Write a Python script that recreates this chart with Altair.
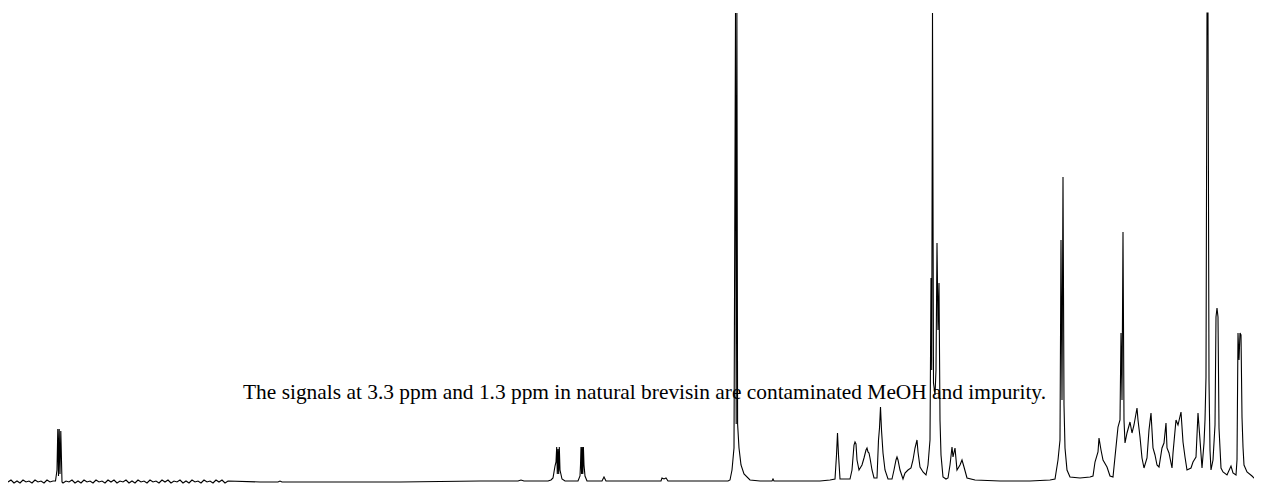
import altair as alt
import pandas as pd

# chemical-shift positions (arbitrary linear units, left to right) and intensities
shift_a = [8, 11, 14, 17, 20, 23, 26, 29, 32, 35, 38, 41, 44, 47, 50, 53,
           55.5, 57, 57.8, 58.5, 59.2, 60, 60.8, 62,
           63, 66, 69, 72, 75, 78, 81, 84, 87, 90,
           93, 96, 99, 102, 105, 108, 111, 114, 117, 120,
           123, 126, 129, 132, 135, 138, 141, 144, 147, 150,
           153, 156, 159, 162, 165, 168, 171, 174, 177, 180,
           183, 186, 189, 192, 195, 198, 201, 204, 207, 210,
           213, 216, 219, 222, 225, 228]
inten_a = [2, 4, 1, 3, 1, 4, 2, 3, 1, 4, 2, 3, 1, 4, 2, 3,
           3, 14, 55, 8, 55, 10, 53, 2,
           1, 3, 2, 4, 1, 3, 1, 4, 2, 3,
           1, 4, 2, 3, 1, 4, 2, 4, 1, 3,
           2, 4, 1, 3, 1, 4, 2, 3, 1, 4,
           2, 3, 1, 4, 2, 4, 1, 3, 2, 4,
           1, 3, 1, 4, 2, 3, 1, 4, 2, 3,
           1, 4, 2, 4, 1, 3]

shift_b = [260, 278, 280, 282, 330, 400, 480, 518, 521, 524,
           548, 551, 553, 555, 556, 556.7, 557.3, 558, 558.7, 559.3, 560, 562,
           565, 578, 580, 580.5, 581, 581.6, 582.2, 582.8, 583.4, 584, 585, 587,
           602, 604, 606, 640, 661, 662, 664, 666, 668, 700,
           728, 730, 732, 734, 735.5, 736.2, 736.9, 737.6, 739, 741, 744, 750,
           760, 772, 773, 774, 800, 820, 830]
inten_b = [2, 2, 3, 2, 2, 2, 3, 3, 4, 3,
           3, 4, 6, 18, 22, 37, 10, 35, 10, 37, 14, 5,
           3, 3, 8, 19, 37, 10, 37, 10, 37, 19, 8, 3,
           3, 7, 3, 3, 3, 6, 5, 6, 3, 3,
           3, 4, 14, 36, 471, 60, 471, 60, 36, 19, 10, 4,
           3, 3, 5, 3, 3, 3, 4]

shift_c = [835, 836.5, 837.5, 838.5, 840, 850, 852, 854, 855, 856,
           857, 859, 862, 864, 866, 867, 868, 869, 870, 872,
           874, 877, 878.5, 879.5, 880.5, 881.5, 883, 885, 888, 892,
           894, 896, 897, 898, 900, 903, 905, 908, 911, 913,
           915, 917, 918, 920, 923, 926, 928, 930, 931, 931.7,
           932.5, 933.5, 935, 936, 937, 938, 939, 940, 941, 943,
           946, 948, 950, 952, 953, 955, 957, 960, 962, 964,
           967, 975, 1000, 1030, 1050]
inten_c = [5, 29, 51, 29, 5, 5, 14, 39, 42, 40,
           24, 14, 19, 26, 34, 36, 32, 31, 26, 14,
           6, 6, 44, 56, 77, 54, 31, 14, 5, 5,
           14, 24, 27, 24, 14, 5, 11, 14, 16, 24,
           36, 44, 32, 17, 12, 9, 19, 44, 206, 114,
           471, 101, 89, 114, 241, 154, 201, 64, 29, 7,
           5, 6, 19, 37, 27, 36, 14, 19, 24, 17,
           6, 4, 3, 3, 4]

shift_d = [1055, 1058, 1060, 1061, 1062, 1063, 1064, 1065, 1067, 1070,
           1080, 1090, 1093, 1095, 1098, 1099, 1101, 1103, 1107, 1110,
           1113, 1115, 1118, 1120, 1121, 1122, 1123, 1124, 1125, 1127,
           1130, 1132, 1134, 1137, 1138, 1140, 1142, 1144, 1147, 1149,
           1151, 1153, 1155, 1157, 1159, 1162, 1164, 1166, 1167, 1169,
           1172, 1173, 1176, 1178, 1181, 1183, 1185, 1187, 1191, 1193,
           1196, 1198, 1200, 1202, 1204, 1205, 1206, 1207, 1208, 1209,
           1210, 1211, 1213, 1215, 1216, 1217, 1218, 1219, 1221, 1223,
           1227, 1231, 1233, 1236, 1237, 1238, 1239, 1240, 1241, 1242,
           1243, 1244, 1247, 1252, 1255, 1260]
inten_d = [5, 24, 44, 244, 84, 307, 79, 36, 14, 7,
           6, 7, 8, 22, 32, 46, 34, 24, 17, 8,
           7, 27, 57, 64, 151, 84, 252, 64, 41, 51,
           62, 51, 59, 76, 64, 47, 26, 16, 26, 54,
           71, 36, 29, 19, 17, 36, 41, 61, 36, 31,
           16, 31, 64, 59, 72, 42, 27, 14, 16, 22,
           27, 71, 44, 16, 41, 64, 107, 471, 471, 104,
           34, 14, 24, 59, 167, 176, 167, 56, 16, 12,
           9, 18, 11, 9, 24, 151, 124, 151, 149, 67,
           37, 19, 12, 8, 5, 3]

note_text = ["The signals at 3.3 ppm and 1.3 ppm in natural brevisin are contaminated MeOH and impurity."]
note_shift = [644.5]
note_inten = [85]

shift = shift_a + shift_b + shift_c + shift_d
inten = inten_a + inten_b + inten_c + inten_d
spec = pd.DataFrame({"shift": shift, "intensity": inten, "order": list(range(len(shift)))})
note = pd.DataFrame({"shift": note_shift, "intensity": note_inten, "label": note_text})

xs = alt.Scale(domain=[8, 1254], nice=False, zero=False)
ys = alt.Scale(domain=[0, 476], nice=False, zero=False)

text = alt.Chart(note).mark_text(
    font="Liberation Serif", fontSize=21.4, color="black", align="center", baseline="alphabetic"
).encode(
    x=alt.X("shift:Q", scale=xs, axis=None),
    y=alt.Y("intensity:Q", scale=ys, axis=None),
    text="label:N",
)

line = alt.Chart(spec).mark_line(color="black", strokeWidth=1.1, clip=True).encode(
    x=alt.X("shift:Q", scale=xs, axis=None),
    y=alt.Y("intensity:Q", scale=ys, axis=None),
    order="order:Q",
)

chart = alt.layer(text, line).properties(
    width=1246, height=476, padding=0, background="white"
).configure_view(stroke=None)

chart.save("out.html", embed_options={"renderer": "svg", "actions": False})
